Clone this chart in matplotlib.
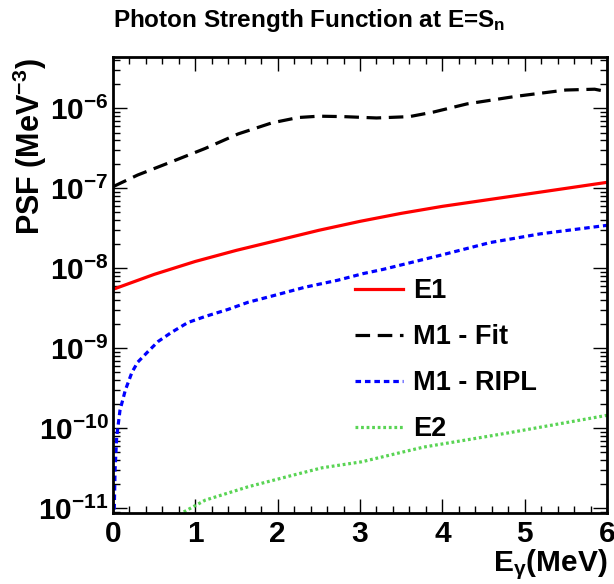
import matplotlib
matplotlib.use("Agg")
import matplotlib.pyplot as plt
from matplotlib.ticker import FixedLocator, MultipleLocator, NullFormatter, FuncFormatter
import numpy as np

plt.rcParams['font.family'] = ['Liberation Sans', 'DejaVu Sans']
plt.rcParams['font.weight'] = 'bold'
plt.rcParams['mathtext.fontset'] = 'custom'
plt.rcParams['mathtext.rm'] = 'Liberation Sans:bold'
plt.rcParams['mathtext.bf'] = 'Liberation Sans:bold'
plt.rcParams['mathtext.it'] = 'Liberation Sans:bold'
plt.rcParams['mathtext.sf'] = 'Liberation Sans:bold'
plt.rcParams['lines.scale_dashes'] = False

# ---- data ----
e_E1 = [0.0, 0.5, 1.0, 1.5, 2.0, 2.5, 3.0, 3.5, 4.0, 4.5, 5.0, 5.5, 6.0]
psf_E1 = [5.46e-9, 8.4e-9, 1.22e-8, 1.68e-8, 2.24e-8, 2.99e-8, 3.87e-8,
          4.87e-8, 5.96e-8, 7.08e-8, 8.41e-8, 1.0e-7, 1.19e-7]

e_M1fit = [0.0, 0.3, 0.71, 1.12, 1.52, 1.93, 2.25, 2.5, 2.8, 3.2, 3.6, 3.89,
           4.3, 4.9, 5.5, 5.85, 6.0]
psf_M1fit = [1.05e-7, 1.47e-7, 2.15e-7, 3.16e-7, 4.8e-7, 6.6e-7, 7.7e-7, 8.0e-7,
             7.9e-7, 7.6e-7, 7.9e-7, 9.0e-7, 1.14e-6, 1.42e-6, 1.70e-6, 1.74e-6, 1.62e-6]

e_M1ripl = [0.0, 0.01, 0.025, 0.045, 0.085, 0.15, 0.23, 0.30, 0.43, 0.55, 0.71,
            0.91, 1.12, 1.40, 1.64, 1.93, 2.33, 2.73, 3.04, 3.28, 3.97, 4.58, 5.19, 6.0]
psf_M1ripl = [1e-13, 5e-12, 3.0e-11, 7.8e-11, 1.68e-10, 3.0e-10, 5.0e-10, 6.7e-10,
              9.2e-10, 1.22e-9, 1.58e-9, 2.1e-9, 2.5e-9, 3.07e-9, 3.76e-9, 4.5e-9,
              5.8e-9, 7.1e-9, 8.6e-9, 9.7e-9, 1.45e-8, 2.1e-8, 2.7e-8, 3.45e-8]

e_E2 = [0.80, 1.12, 1.64, 2.13, 2.54, 3.02, 3.77, 4.79, 6.0]
psf_E2 = [8.3e-12, 1.26e-11, 1.85e-11, 2.5e-11, 3.2e-11, 3.8e-11, 5.8e-11, 8.7e-11, 1.45e-10]

labels = ["E1", "M1 - Fit", "M1 - RIPL", "E2"]
x_ticks = [0, 1, 2, 3, 4, 5, 6]
y_ticks = [1e-11, 1e-10, 1e-9, 1e-8, 1e-7, 1e-6]
x_range = (0, 6)
y_range = (8.7e-12, 4.4e-6)

# ---- figure ----
fig = plt.figure(figsize=(6.14, 5.84), dpi=100)
ax = fig.add_axes([113/614, 1 - 513/584, (607-113)/614, (513-57)/584])

lw = 2.3
ax.plot(e_E1, psf_E1, color='#ff0000', lw=lw, label=labels[0])
ax.plot(e_M1fit, psf_M1fit, color='black', lw=lw, dashes=(10.5, 5.5), label=labels[1])
ax.plot(e_M1ripl, psf_M1ripl, color='#0000ff', lw=lw, dashes=(4.0, 2.8), label=labels[2])
ax.plot(e_E2, psf_E2, color='#59d454', lw=lw, dashes=(2.0, 2.0), label=labels[3])

ax.set_yscale('log')
ax.set_xlim(*x_range)
ax.set_ylim(*y_range)

ax.xaxis.set_major_locator(FixedLocator(x_ticks))
ax.xaxis.set_minor_locator(MultipleLocator(0.2))
ax.xaxis.set_minor_formatter(NullFormatter())
minor_y = [m * 10.0**k for k in range(-12, -5) for m in range(2, 10)]
minor_y = [v for v in minor_y if y_range[0] < v < y_range[1]]
ax.yaxis.set_major_locator(FixedLocator(y_ticks))
ax.yaxis.set_minor_locator(FixedLocator(minor_y))
ax.yaxis.set_minor_formatter(NullFormatter())

def yfmt(v, pos):
    ex = int(round(np.log10(v)))
    return r'$\mathbf{10^{%d}}$' % ex
ax.yaxis.set_major_formatter(FuncFormatter(yfmt))
ax.xaxis.set_major_formatter(FuncFormatter(lambda v, p: '%d' % v))

ax.tick_params(which='both', direction='in', top=True, right=True, width=1.0)
ax.tick_params(which='major', length=10, labelsize=21.5)
ax.tick_params(which='minor', length=5)
ax.tick_params(axis='x', which='major', pad=5)
ax.tick_params(axis='y', which='major', pad=3)
for s in ax.spines.values():
    s.set_linewidth(2.0)

fig.text(0.503, 1 - 21/584, r'Photon Strength Function at E=S$_\mathrm{n}$',
         ha='center', va='center', fontsize=17.5, fontweight='bold')
fig.text(607/614, 1 - 565/584, r'E$_{\gamma}$(MeV)', ha='right', va='center',
         fontsize=21.5, fontweight='bold')
fig.text(30/614, 1 - 58/584, r'PSF (MeV$^{-3}$)', ha='center', va='top',
         rotation=90, fontsize=22, fontweight='bold')

leg = ax.legend(loc='upper left', bbox_to_anchor=(355/614, 1 - 278/584),
                bbox_transform=fig.transFigure, frameon=False, fontsize=19.5,
                handlelength=1.78, handletextpad=0.37, labelspacing=0.74,
                borderpad=0.0, borderaxespad=0.0)

fig.savefig('out.png', dpi=100)
